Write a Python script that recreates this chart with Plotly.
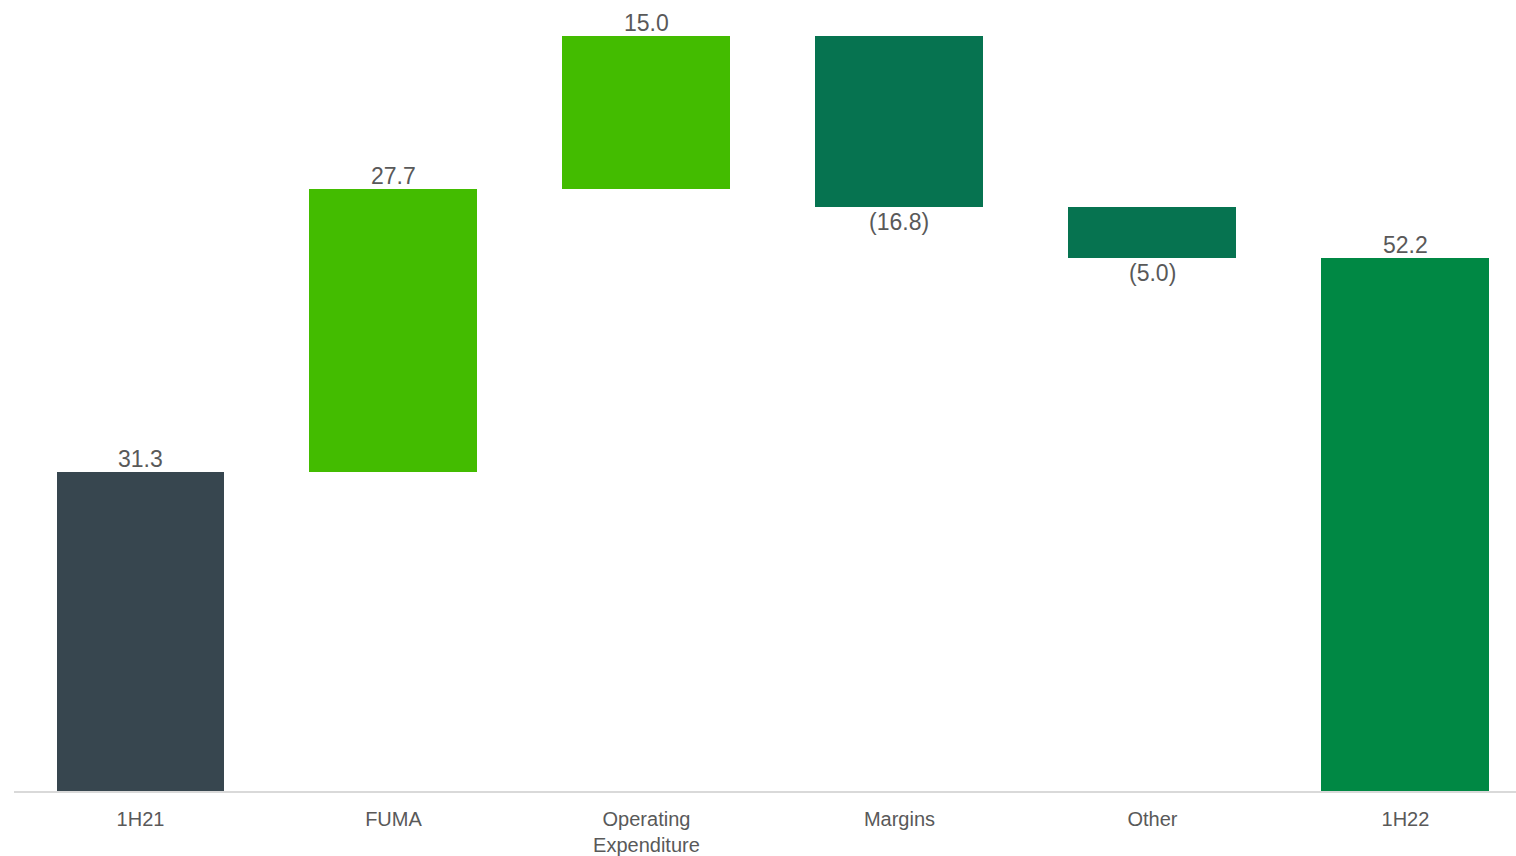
import plotly.graph_objects as go

categories = ["1H21", "FUMA", "Operating<br>Expenditure", "Margins", "Other", "1H22"]
values = [31.3, 27.7, 15.0, -16.8, -5.0, 52.2]
measures = ["absolute", "relative", "relative", "relative", "relative", "total"]
labels = ["31.3", "27.7", "15.0", "(16.8)", "(5.0)", "52.2"]
colors = ["#37464F", "#43BC00", "#43BC00", "#067350", "#067350", "#008844"]

bases, heights = [], []
running = 0.0
for v, m in zip(values, measures):
    if m == "absolute":
        bases.append(0.0); heights.append(v); running = v
    elif m == "total":
        bases.append(0.0); heights.append(running)
    else:
        bases.append(running); heights.append(v); running += v

x = list(range(len(categories)))
fig = go.Figure()
fig.add_trace(go.Bar(
    x=x, y=heights, base=bases, width=0.664,
    marker=dict(color=colors, line=dict(width=0)),
    hoverinfo="skip", showlegend=False,
))

for xi, b, h, lab in zip(x, bases, heights, labels):
    if h >= 0:
        fig.add_annotation(x=xi, y=b + h, text=lab, showarrow=False, yanchor="bottom", yshift=-2,
                           font=dict(family="Liberation Sans, Arial", size=23, color="#595959"))
    else:
        fig.add_annotation(x=xi, y=b + h, text=lab, showarrow=False, yanchor="top",
                           font=dict(family="Liberation Sans, Arial", size=23, color="#595959"))

fig.update_layout(
    width=1516, height=856,
    margin=dict(l=14, r=0, t=0, b=65),
    plot_bgcolor="white", paper_bgcolor="white",
    bargap=0,
)
fig.update_xaxes(
    range=[-0.5, 5.437], tickmode="array", tickvals=x, ticktext=categories,
    showgrid=False, zeroline=False, showline=True, linecolor="#D9D9D9", linewidth=2,
    ticks="", ticklabelstandoff=9, automargin=False,
    tickfont=dict(family="Liberation Sans, Arial", size=20, color="#595959"),
)
fig.update_yaxes(range=[0, 77.5], showgrid=False, zeroline=False, showticklabels=False,
                 showline=False, automargin=False)

fig.write_html("out.html")
